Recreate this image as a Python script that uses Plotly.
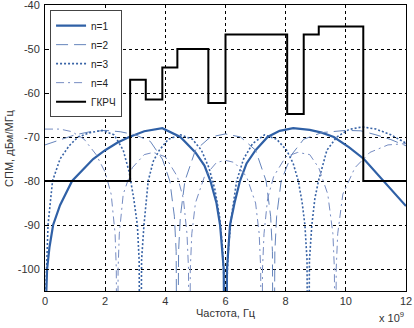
import plotly.graph_objects as go

# ---- data (frequency in GHz, PSD in dBm/MHz) ----
f_n1 = [0, 0.02, 0.07, 0.15, 0.27, 0.5, 0.9, 1.3, 1.6, 2.0, 2.4, 2.8, 3.3, 3.9, 4.5, 5.0, 5.3, 5.5, 5.7, 5.82,
        5.94, 6.0, 6.05, 6.15, 6.3, 6.48, 6.7, 7.0, 7.4, 7.8, 8.25, 8.8, 9.2, 9.6, 10.1, 10.6, 11.2, 11.6, 12]
p_n1 = [-150, -110, -100, -95, -90, -85.5, -80, -77, -75, -73, -71.3, -70, -68.7, -68, -70, -73.5, -76.5, -80, -85,
        -90, -100, -150, -100, -90, -85, -80, -76, -73, -70, -68.6, -68, -68.4, -69, -70, -72.3, -75, -79.5, -82.5, -85.7]

f_n2 = [0, 0.5, 1.0, 1.5, 2.0, 2.5, 3.0, 3.5, 3.9, 4.15, 4.3, 4.36, 4.4, 4.44, 4.5, 4.65, 5.0, 5.5, 6.0, 6.5, 7.0,
        7.35, 7.5, 7.56, 7.6, 7.64, 7.7, 7.85, 8.2, 8.6, 9.2, 10.0, 10.5, 11.0, 11.5, 12]
p_n2 = [-71.8, -70.6, -69.5, -68.8, -68.5, -68.8, -69.5, -71, -75, -80, -88, -96, -150, -96, -88, -80, -73, -70, -69.3,
        -70, -73, -80, -88, -96, -150, -96, -88, -80, -74, -70.5, -69, -68.5, -68.6, -69.5, -70.6, -72]

f_n3 = [0, 0.03, 0.1, 0.25, 0.5, 0.8, 1.1, 1.5, 1.9, 2.3, 2.6, 2.8, 2.95, 3.07, 3.13, 3.17, 3.21, 3.29, 3.43, 3.6,
        3.8, 4.1, 4.5, 4.9, 5.2, 5.45, 5.65, 5.8, 5.9, 5.96, 6.0, 6.04, 6.1, 6.2, 6.37, 6.6, 6.9, 7.3, 7.7, 8.03,
        8.25, 8.42, 8.55, 8.64, 8.71, 8.75, 8.79, 8.87, 8.97, 9.09, 9.37, 9.7, 10.1, 10.55, 11.0, 11.5, 12]
p_n3 = [-150, -105, -90, -80, -75, -72, -70, -69, -68.5, -69.5, -73, -78, -84, -90, -98, -150, -98, -90, -80, -75.5,
        -73, -70.5, -69.5, -70.5, -73, -77, -82, -88, -95, -104, -150, -104, -95, -88, -80, -75, -71.5, -69.5, -70.5,
        -73, -76, -80, -85, -90, -98, -150, -98, -90, -84, -80, -73, -70, -68.3, -67.7, -68.2, -69.5, -71.4]

f_n4 = [0, 0.5, 0.9, 1.3, 1.7, 2.0, 2.2, 2.33, 2.37, 2.4, 2.43, 2.47, 2.6, 2.9, 3.3, 3.6, 4.0, 4.4, 4.6, 4.72, 4.77,
        4.8, 4.83, 4.88, 5.0, 5.3, 5.7, 6.0, 6.3, 6.7, 7.0, 7.12, 7.17, 7.2, 7.23, 7.28, 7.4, 7.6, 8.0, 8.4, 8.8,
        9.1, 9.4, 9.57, 9.62, 9.65, 9.68, 9.73, 9.9, 10.3, 10.8, 11.4, 12]
p_n4 = [-68.2, -68.2, -68.8, -70.5, -74, -78, -83, -92, -100, -150, -100, -92, -83, -77, -74, -73.5, -74.5, -79, -84,
        -92, -100, -150, -100, -92, -85, -79, -75.8, -75.3, -75.8, -79, -85, -92, -100, -150, -100, -92, -84, -79,
        -74.5, -73.5, -74, -77, -83, -92, -100, -150, -100, -92, -83, -77, -73.5, -71.8, -71.5]

# ГКРЧ mask: band edges (GHz) and levels (dBm/MHz)
mask_edges = [0, 2.83, 3.35, 3.9, 4.4, 5.43, 6.0, 8.05, 8.6, 9.1, 10.58, 12]
mask_levels = [-80, -57, -61.5, -54.2, -50, -62.3, -46.7, -64.8, -46.7, -44.9, -80]

x_ticks = [0, 2, 4, 6, 8, 10, 12]
y_ticks = [-40, -50, -60, -70, -80, -90, -100]

# build the step trace from the mask table
mask_x, mask_y = [], []
for i, lvl in enumerate(mask_levels):
    mask_x += [mask_edges[i], mask_edges[i + 1]]
    mask_y += [lvl, lvl]

fig = go.Figure()
fig.add_trace(go.Scatter(x=f_n1, y=p_n1, mode="lines", name="n=1",
                         line=dict(color="#2f60a6", width=2.2)))
fig.add_trace(go.Scatter(x=f_n2, y=p_n2, mode="lines", name="n=2",
                         line=dict(color="#6584bb", width=1, dash="12px,6px")))
fig.add_trace(go.Scatter(x=f_n3, y=p_n3, mode="lines", name="n=3",
                         line=dict(color="#3863a6", width=1.6, dash="2px,2px")))
fig.add_trace(go.Scatter(x=f_n4, y=p_n4, mode="lines", name="n=4",
                         line=dict(color="#768cc2", width=1, dash="8px,4px,2px,4px")))
fig.add_trace(go.Scatter(x=mask_x, y=mask_y, mode="lines", name="ГКРЧ",
                         line=dict(color="black", width=2)))

font = dict(family="Liberation Sans, Arial, sans-serif", size=11, color="#333333")

fig.update_layout(
    width=414, height=328,
    margin=dict(l=45, r=8, t=5, b=37, autoexpand=False),
    paper_bgcolor="white", plot_bgcolor="white",
    font=font,
    showlegend=True,
    legend=dict(x=0.014, y=0.982, xanchor="left", yanchor="top",
                bgcolor="white", bordercolor="#444444", borderwidth=1,
                font=dict(family="Liberation Sans, Arial, sans-serif", size=10, color="#222222"),
                tracegroupgap=0, itemwidth=30),
    xaxis=dict(range=[0, 12], tickvals=x_ticks, ticktext=[str(v) for v in x_ticks],
               showgrid=True, gridcolor="black", griddash="dot", gridwidth=1,
               showline=True, linecolor="black", linewidth=1, mirror=True,
               ticks="inside", ticklen=4, tickcolor="black", zeroline=False,
               ticklabelstandoff=0, ticklabeloverflow="allow"),
    yaxis=dict(range=[-105, -40], tickvals=y_ticks, ticktext=[str(v) for v in y_ticks],
               showgrid=True, gridcolor="black", griddash="dot", gridwidth=1,
               showline=True, linecolor="black", linewidth=1, mirror=True,
               ticks="inside", ticklen=4, tickcolor="black", zeroline=False,
               ticklabelstandoff=2, ticklabeloverflow="allow"),
    annotations=[
        dict(text="Частота, Гц", x=0.5, y=-0.077, xref="paper", yref="paper",
             xanchor="center", yanchor="middle", showarrow=False, font=font),
        dict(text="x 10<sup>9</sup>", x=1.0, y=-0.092, xref="paper", yref="paper",
             xanchor="right", yanchor="middle", showarrow=False, font=font),
        dict(text="СПМ, дБм/МГц", x=-0.1, y=0.5, xref="paper", yref="paper",
             xanchor="center", yanchor="middle", textangle=-90, showarrow=False, font=font),
    ],
)

fig.write_html("out.html", config={"displayModeBar": False},
               post_script="document.body.style.margin='0';")
